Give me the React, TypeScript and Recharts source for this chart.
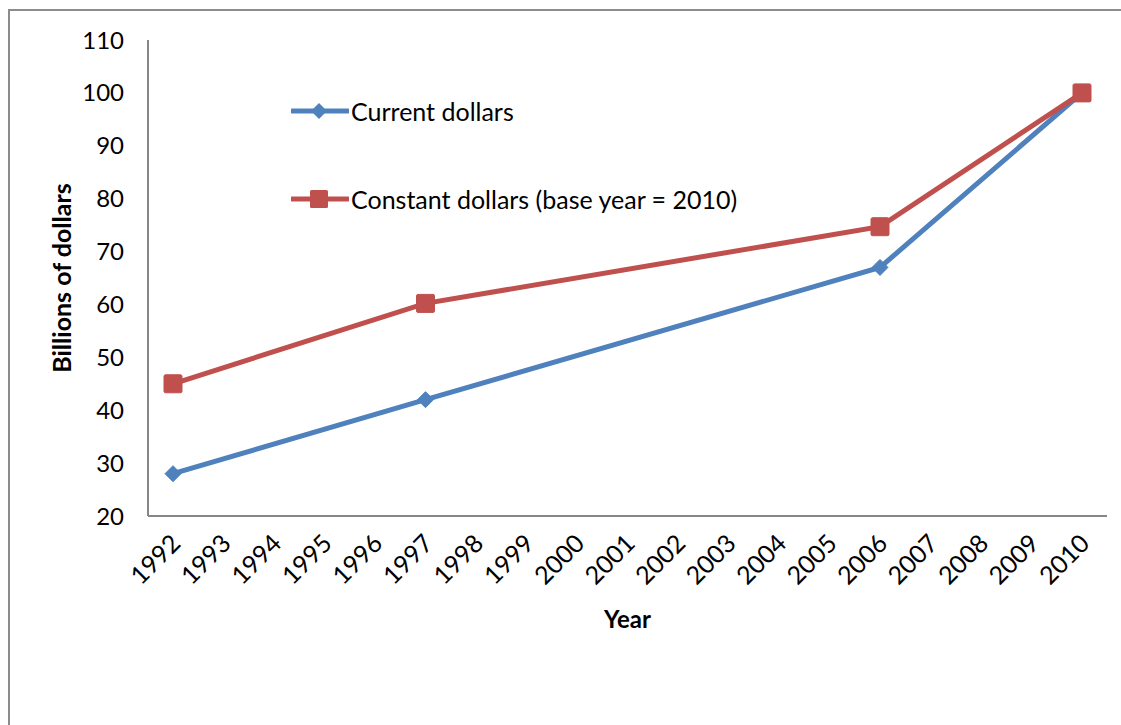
import { LineChart, Line, XAxis, YAxis, Legend } from 'recharts';

const years = [
  '1992', '1993', '1994', '1995', '1996', '1997', '1998', '1999', '2000', '2001',
  '2002', '2003', '2004', '2005', '2006', '2007', '2008', '2009', '2010',
];
const currentDollars: (number | null)[] = [
  28, null, null, null, null, 42, null, null, null, null,
  null, null, null, null, 67, null, null, null, 100,
];
const constantDollars: (number | null)[] = [
  45, null, null, null, null, 60.2, null, null, null, null,
  null, null, null, null, 74.7, null, null, null, 100,
];
const yTicks = [20, 30, 40, 50, 60, 70, 80, 90, 100, 110];

const data = years.map((y, i) => ({
  year: y,
  current: currentDollars[i],
  constant: constantDollars[i],
}));

const BLUE = '#4F81BD';
const RED = '#C0504D';
const FONT = 'Lato, "Open Sans", sans-serif';

function Diamond(props: any) {
  const { cx, cy, value, index } = props;
  if (value == null || cy == null) return <g key={`d-${index}`} />;
  const r = 8;
  return (
    <polygon
      key={`d-${index}`}
      points={`${cx},${cy - r} ${cx + r},${cy} ${cx},${cy + r} ${cx - r},${cy}`}
      fill={BLUE}
      stroke={BLUE}
      strokeWidth={1}
    />
  );
}

function Square(props: any) {
  const { cx, cy, value, index } = props;
  if (value == null || cy == null) return <g key={`s-${index}`} />;
  const r = 9;
  return (
    <rect
      key={`s-${index}`}
      x={cx - r}
      y={cy - r}
      width={r * 2}
      height={r * 2}
      rx={1.5}
      fill={RED}
      stroke={RED}
      strokeWidth={1}
    />
  );
}

function YearTick(props: any) {
  const { x, y, payload } = props;
  return (
    <g transform={`translate(${x + 9},${y + 21})`}>
      <text
        transform="rotate(-45)"
        textAnchor="end"
        fontSize={25}
        fontFamily={FONT}
        fill="#000"
      >
        {payload.value}
      </text>
    </g>
  );
}

function LegendBox() {
  const rows = [
    { label: 'Current dollars', color: BLUE, shape: 'diamond' },
    { label: 'Constant dollars (base year = 2010)', color: RED, shape: 'square' },
  ];
  return (
    <div style={{ fontFamily: FONT, fontSize: 25, color: '#000' }}>
      {rows.map((r, i) => (
        <div
          key={r.label}
          style={{ display: 'flex', alignItems: 'center', height: 32, marginBottom: i === 0 ? 56 : 0 }}
        >
          <svg width={58} height={24} style={{ marginRight: 2 }}>
            <line x1={1} y1={12} x2={57} y2={12} stroke={r.color} strokeWidth={5} strokeLinecap="round" />
            {r.shape === 'diamond' ? (
              <polygon points="28,4 36,12 28,20 20,12" fill={r.color} />
            ) : (
              <rect x={19} y={3} width={18} height={18} rx={1.5} fill={r.color} />
            )}
          </svg>
          <span style={{ whiteSpace: 'nowrap' }}>{r.label}</span>
        </div>
      ))}
    </div>
  );
}

export default function App() {
  return (
    <div
      style={{
        position: 'absolute', left: 0, top: 0, width: 1121, height: 725,
        overflow: 'hidden', background: '#fff',
      }}
    >
      <div
        style={{
          position: 'absolute', left: 8, top: 9, width: 1300, height: 900,
          border: '2px solid #8c8c8c',
        }}
      />
      <div style={{ position: 'absolute', left: 0, top: 0 }}>
        <LineChart
          width={1121}
          height={725}
          data={data}
          margin={{ top: 40, right: 14, bottom: 59, left: 0 }}
        >
          <XAxis
            dataKey="year"
            height={150}
            padding={{ left: 25, right: 25 }}
            tickLine={false}
            axisLine={{ stroke: '#868686', strokeWidth: 2 }}
            interval={0}
            tick={<YearTick />}
            label={{
              value: 'Year', position: 'insideBottom', offset: 38,
              style: { fontFamily: FONT, fontSize: 24, fontWeight: 700, fill: '#000' },
            }}
          />
          <YAxis
            width={148}
            domain={[20, 110]}
            ticks={yTicks}
            interval={0}
            tickLine={false}
            tickSize={0}
            tickMargin={24}
            axisLine={{ stroke: '#868686', strokeWidth: 2 }}
            tick={{ fontFamily: FONT, fontSize: 24, fill: '#000' }}
            label={{
              value: 'Billions of dollars', angle: -90, position: 'insideLeft', offset: 62,
              style: { fontFamily: FONT, fontSize: 25, fontWeight: 700, fill: '#000', textAnchor: 'middle' },
            }}
          />
          <Legend
            content={<LegendBox />}
            layout="vertical"
            align="center"
            verticalAlign="middle"
            wrapperStyle={{ left: 291, top: 95, width: 'auto' }}
          />
          <Line
            type="linear"
            dataKey="current"
            stroke={BLUE}
            strokeWidth={5}
            connectNulls
            dot={<Diamond />}
            activeDot={false}
            isAnimationActive={false}
          />
          <Line
            type="linear"
            dataKey="constant"
            stroke={RED}
            strokeWidth={5}
            connectNulls
            dot={<Square />}
            activeDot={false}
            isAnimationActive={false}
          />
        </LineChart>
      </div>
    </div>
  );
}
